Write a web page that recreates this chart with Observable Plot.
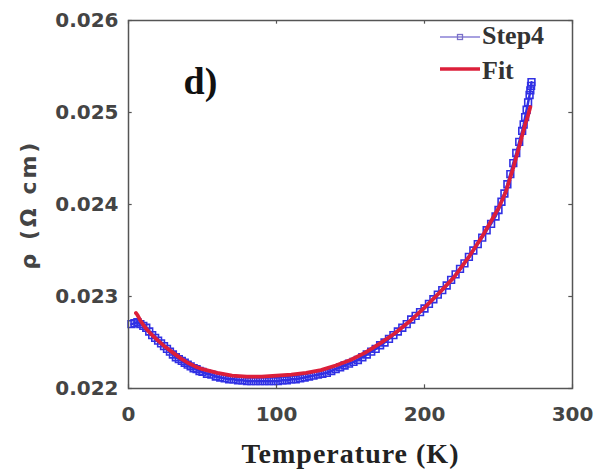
<!DOCTYPE html>
<html>
<head>
<meta charset="utf-8">
<script src="https://cdn.jsdelivr.net/npm/d3@7"></script>
<script src="https://cdn.jsdelivr.net/npm/@observablehq/plot@0.6"></script>
<style>
  html, body { margin: 0; padding: 0; background: #fff; }
  #chart { width: 598px; height: 474px; }
</style>
</head>
<body>
<div id="chart"></div>
<script>
// Step4 measured data (temperature in K, resistivity in Ω cm)
const step4T = [2,4,6,8,10,12,14,16,18,20,22,24,26,28,30,32,34,36,38,40,42,44,46,48,50,53,56,59,62,65,68,71,74,77,80,83,86,89,92,95,98,101,104,107,110,113,116,119,122,125,128,131,134,137,140,143,146,149,152,155,158,161,164,167,170,173,176,179,182,185,188,191,194,197,200,203,206,209,212,215,218,221,224,227,230,233,236,239,242,245,248,250,252,254,256,258,260,262,264,266,267,268,269,270,271,271.5,272,272.3];
const step4Rho = [0.02270,0.02271,0.02272,0.02270,0.02268,0.02266,0.02262,0.02258,0.02255,0.02252,0.02249,0.02246,0.02243,0.02240,0.02237,0.02234,0.02232,0.02230,0.02228,0.02226,0.02224,0.02222,0.02221,0.02219,0.02218,0.02216,0.02215,0.02213,0.02212,0.02211,0.02210,0.02210,0.02209,0.02209,0.02208,0.02208,0.02208,0.02208,0.02208,0.02208,0.02208,0.02208,0.02209,0.02209,0.02210,0.02210,0.02211,0.02212,0.02213,0.02214,0.02215,0.02216,0.02217,0.02219,0.02221,0.02223,0.02225,0.02227,0.02229,0.02231,0.02234,0.02237,0.02240,0.02243,0.02247,0.02250,0.02254,0.02258,0.02262,0.02266,0.02270,0.02275,0.02279,0.02283,0.02287,0.02292,0.02297,0.02302,0.02307,0.02312,0.02318,0.02324,0.02330,0.02336,0.02343,0.02350,0.02357,0.02364,0.02372,0.02379,0.02387,0.02394,0.02403,0.02412,0.02422,0.02433,0.02445,0.02456,0.02468,0.02480,0.02487,0.02495,0.02503,0.02511,0.02519,0.02524,0.02529,0.02533];

// Fit curve
const fitT = [5,6,8,10,13,16,20,25,30,35,40,45,50,60,70,80,90,100,110,120,130,140,150,160,170,180,190,200,210,220,230,240,250,255,260,264,268,270,271.5];
const fitRho = [0.02282,0.02280,0.02274,0.02269,0.02263,0.02258,0.02252,0.02245,0.02239,0.02233,0.02228,0.02224,0.02221,0.02217,0.02214,0.02213,0.02213,0.02214,0.02215,0.02217,0.02220,0.02225,0.02231,0.02239,0.02249,0.02260,0.02273,0.02288,0.02304,0.02321,0.02343,0.02368,0.02396,0.02414,0.02440,0.02463,0.02487,0.02497,0.02506];

const xTicks = [0, 100, 200, 300];
const yTicks = [0.022, 0.023, 0.024, 0.025, 0.026];

const seriesNames = ["Step4", "Fit"];
const panelLabel = "d)";
const xLabel = "Temperature (K)";
const yLabel = "ρ (Ω cm)";

const step4 = step4T.map((t, i) => ({T: t, rho: step4Rho[i]}));
const fit = fitT.map((t, i) => ({T: t, rho: fitRho[i]}));

const blue = "#3030e4";
const red = "#dc1f3a";
const frameColor = "#555";

const plot = Plot.plot({
  width: 598,
  height: 474,
  marginLeft: 128,
  marginRight: 26,
  marginTop: 20,
  marginBottom: 86,
  style: {fontFamily: "DejaVu Sans", background: "white", color: "#444", overflow: "visible"},
  x: {domain: [0, 300]},
  y: {domain: [0.022, 0.026]},
  marks: [
    Plot.line(step4, {x: "T", y: "rho", stroke: blue, strokeWidth: 2.5}),
    Plot.dot(step4, {x: "T", y: "rho", symbol: "square", r: 3.8, stroke: blue, strokeWidth: 1.6, fill: "none"}),
    Plot.line(fit, {x: "T", y: "rho", stroke: red, strokeWidth: 3.8}),
    Plot.frame({stroke: frameColor, strokeWidth: 1.5}),
    Plot.ruleY(yTicks, {y: d => d, x1: 0, x2: 2.5, stroke: frameColor, strokeWidth: 1.2}),
    Plot.ruleY(yTicks, {y: d => d, x1: 297.5, x2: 300, stroke: frameColor, strokeWidth: 1.2}),
    Plot.ruleX(xTicks, {x: d => d, y1: 0.022, y2: 0.02204, stroke: frameColor, strokeWidth: 1.2}),
    Plot.ruleX(xTicks, {x: d => d, y1: 0.02596, y2: 0.026, stroke: frameColor, strokeWidth: 1.2}),
    Plot.axisY(yTicks, {tickSize: 0, tickPadding: 10, tickFormat: d3.format(".3f"), fontSize: 20, fontWeight: "bold", label: null}),
    Plot.axisX(xTicks, {tickSize: 0, tickPadding: 18, tickFormat: d3.format("d"), fontSize: 20, fontWeight: "bold", label: null}),
    Plot.text([xLabel], {frameAnchor: "bottom", dy: 66, text: d => d, fontFamily: "Liberation Serif", fontWeight: "bold", fontSize: 28, fill: "#222", textAnchor: "middle", lineAnchor: "middle"}),
    Plot.text([yLabel], {frameAnchor: "left", dx: -100, text: d => d, rotate: -90, fontFamily: "DejaVu Sans", fontWeight: "bold", fontSize: 22, fill: "#444", textAnchor: "middle", lineAnchor: "middle"}),
    Plot.text([panelLabel], {frameAnchor: "top-left", dx: 55, dy: 61, text: d => d, fontFamily: "Liberation Serif", fontWeight: "bold", fontSize: 38, fill: "#111", textAnchor: "start", lineAnchor: "middle"})
  ]
});

document.getElementById("chart").appendChild(plot);

d3.select(plot).selectAll("text").filter(function() { return this.textContent === yLabel; })
  .style("letter-spacing", "3px");
d3.select(plot).selectAll("text").filter(function() { return this.textContent === xLabel; })
  .style("letter-spacing", "1px");

// Legend (top-right inside the frame)
const svg = d3.select(plot);
const lg = svg.append("g").attr("class", "legend").attr("text-anchor", "start");
const legendItems = [
  {name: seriesNames[0], y: 37, stroke: "#8a80d6", width: 1.5, marker: true, baseline: 44},
  {name: seriesNames[1], y: 69, stroke: red, width: 3.5, marker: false, baseline: 79}
];
legendItems.forEach(it => {
  lg.append("line").attr("x1", 440).attr("x2", 480).attr("y1", it.y).attr("y2", it.y)
    .attr("stroke", it.stroke).attr("stroke-width", it.width);
  if (it.marker) {
    lg.append("rect").attr("x", 457.5).attr("y", it.y - 2.5).attr("width", 5).attr("height", 5)
      .attr("fill", "none").attr("stroke", "#7a70c8").attr("stroke-width", 1.3);
  }
  lg.append("text").attr("x", 482).attr("y", it.baseline).text(it.name)
    .attr("text-anchor", "start")
    .attr("font-family", "Liberation Serif").attr("font-weight", "bold").attr("font-size", 26)
    .attr("fill", "#333");
});
</script>
</body>
</html>
